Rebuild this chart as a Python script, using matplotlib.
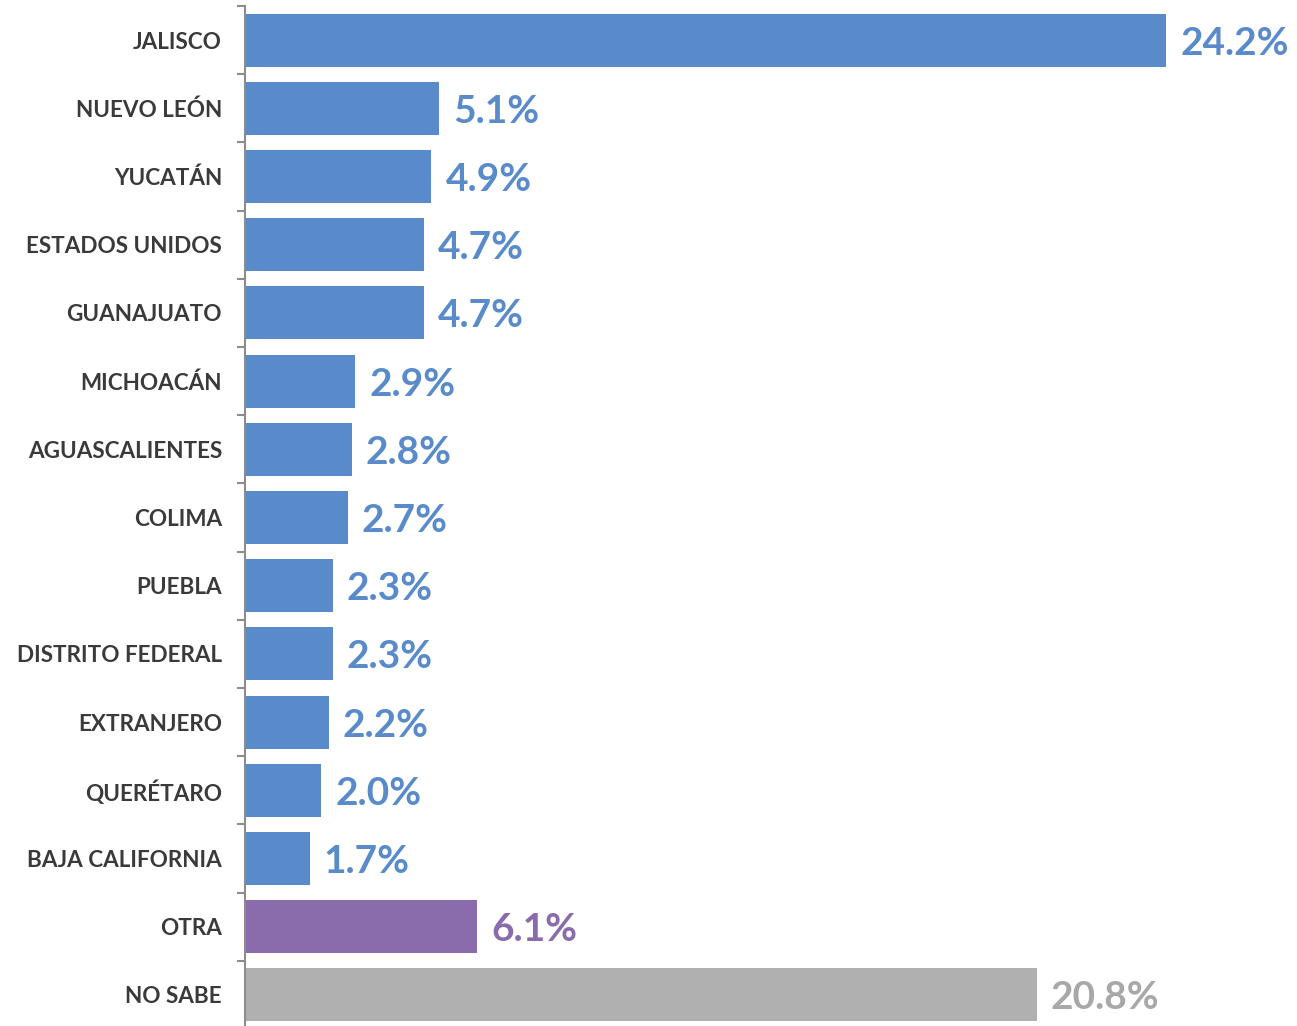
import matplotlib
matplotlib.use("Agg")
import matplotlib.pyplot as plt
import numpy as np

categories = ["JALISCO", "NUEVO LEÓN", "YUCATÁN", "ESTADOS UNIDOS", "GUANAJUATO",
              "MICHOACÁN", "AGUASCALIENTES", "COLIMA", "PUEBLA", "DISTRITO FEDERAL",
              "EXTRANJERO", "QUERÉTARO", "BAJA CALIFORNIA", "OTRA", "NO SABE"]
values = [24.2, 5.1, 4.9, 4.7, 4.7, 2.9, 2.8, 2.7, 2.3, 2.3, 2.2, 2.0, 1.7, 6.1, 20.8]

blue = "#598BCA"
purple = "#8A6BAC"
gray = "#B0B0B0"
colors = [blue] * 13 + [purple, gray]
label_colors = [blue] * 13 + [purple, "#A8A8A8"]

fig = plt.figure(figsize=(12.97, 10.26), dpi=100)
# axes runs a bit past the bottom edge, like the original slide crop
ax = fig.add_axes([245 / 1297, -3 / 1026, 1052 / 1297, 1023 / 1026])

y = np.arange(len(categories))
ax.barh(y, values, height=0.78, color=colors)
ax.set_ylim(len(categories) - 0.5, -0.5)
ax.set_xlim(0, 1052 / 38.06)

for yi, v, c in zip(y, values, label_colors):
    ax.annotate(f"{v:.1f}%", (v, yi), xytext=(14, -3), textcoords="offset pixels",
                va="center", ha="left", fontsize=28, fontweight="bold", color=c,
                family="Lato")

# category labels between boundary ticks
ax.set_yticks(y)
ax.set_yticklabels(categories, fontsize=16.2, fontweight="bold", color="#3A3A3A",
                   family="Lato")
ax.tick_params(axis="y", which="major", length=0, pad=16.5)
ax.set_yticks(np.arange(-0.5, len(categories), 1), minor=True)
ax.tick_params(axis="y", which="minor", length=6, width=1.5, color="#8C8C8C")

ax.set_xticks([])
for s in ["top", "right", "bottom"]:
    ax.spines[s].set_visible(False)
ax.spines["left"].set_color("#8C8C8C")
ax.spines["left"].set_linewidth(1.5)

fig.savefig("out.png", dpi=100)
